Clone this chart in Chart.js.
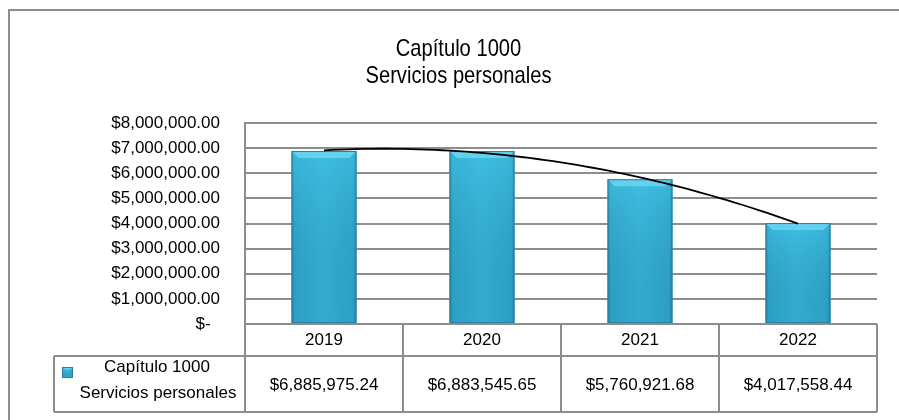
<!DOCTYPE html>
<html><head><meta charset="utf-8">
<script src="https://cdn.jsdelivr.net/npm/chart.js@4.4.1/dist/chart.umd.min.js"></script>
<style>html,body{margin:0;padding:0;background:#fff}#wrap{position:relative;width:899px;height:420px}canvas{display:block}</style>
</head><body><div id="wrap"><canvas id="c" width="899" height="420"></canvas></div>
<script>
// ---- data ----
const categories = ['2019', '2020', '2021', '2022'];
const seriesLabel = ['Capítulo 1000', 'Servicios personales'];
const values = [6885975.24, 6883545.65, 5760921.68, 4017558.44];
const yTickValues = [0, 1000000, 2000000, 3000000, 4000000, 5000000, 6000000, 7000000, 8000000];
const titleLines = ['Capítulo 1000', 'Servicios personales'];

// ---- styling ----
const FONT = "'Liberation Sans', Arial, sans-serif";
const GRID = '#8d8d8d';

function money(v) {
  if (v === 0) return '$-  ';
  return '$' + v.toLocaleString('en-US', {minimumFractionDigits: 2, maximumFractionDigits: 2});
}

// quadratic least-squares trendline (as Excel polynomial order 2) from the data
function quadFit(ys) {
  const n = ys.length;
  let s = [0,0,0,0,0], t = [0,0,0];
  for (let i = 0; i < n; i++) {
    for (let k = 0; k <= 4; k++) s[k] += Math.pow(i, k);
    for (let k = 0; k <= 2; k++) t[k] += ys[i] * Math.pow(i, k);
  }
  const A = [[s[0], s[1], s[2], t[0]], [s[1], s[2], s[3], t[1]], [s[2], s[3], s[4], t[2]]];
  for (let c = 0; c < 3; c++) {
    let p = c;
    for (let r = c + 1; r < 3; r++) if (Math.abs(A[r][c]) > Math.abs(A[p][c])) p = r;
    [A[c], A[p]] = [A[p], A[c]];
    for (let r = 0; r < 3; r++) {
      if (r === c) continue;
      const f = A[r][c] / A[c][c];
      for (let k = c; k < 4; k++) A[r][k] -= f * A[c][k];
    }
  }
  return [A[0][3] / A[0][0], A[1][3] / A[1][1], A[2][3] / A[2][2]];
}

function drawBevelBar(ctx, left, right, top, bottom) {
  const w = right - left;
  const g = ctx.createLinearGradient(left, 0, right, 0);
  g.addColorStop(0, '#2686a8');
  g.addColorStop(0.05, '#30aad0');
  g.addColorStop(0.5, '#37b7dc');
  g.addColorStop(0.95, '#30aad0');
  g.addColorStop(1, '#2686a8');
  ctx.fillStyle = g;
  ctx.fillRect(left, top, w, bottom - top);
  const v = ctx.createLinearGradient(0, top, 0, bottom);
  v.addColorStop(0, 'rgba(80,205,238,0.35)');
  v.addColorStop(1, 'rgba(10,70,100,0.10)');
  ctx.fillStyle = v;
  ctx.fillRect(left, top, w, bottom - top);
  const b = Math.min(7, (bottom - top) / 3, w / 4);
  ctx.beginPath();
  ctx.moveTo(left, top); ctx.lineTo(right, top);
  ctx.lineTo(right - b, top + b); ctx.lineTo(left + b, top + b); ctx.closePath();
  ctx.fillStyle = 'rgba(115,218,245,0.7)';
  ctx.fill();
  ctx.strokeStyle = '#2a809e';
  ctx.lineWidth = 1;
  ctx.strokeRect(left + 0.5, top + 0.5, w - 1, bottom - top - 1);
}

const titlePlugin = {
  id: 'narrowTitle',
  afterDraw(chart) {
    const ctx = chart.ctx;
    const cx = (chart.chartArea.right + 40) / 2;
    ctx.save();
    ctx.fillStyle = '#000';
    ctx.font = '24px ' + FONT;
    ctx.textAlign = 'center';
    ctx.textBaseline = 'alphabetic';
    ctx.translate(cx, 0);
    ctx.scale(0.84, 1);
    ctx.fillText(titleLines[0], 0, 56);
    ctx.fillText(titleLines[1], 0, 83);
    ctx.restore();
  }
};

const barStyle = {
  id: 'barStyle',
  afterDatasetsDraw(chart) {
    const ctx = chart.ctx;
    const meta = chart.getDatasetMeta(0);
    ctx.save();
    meta.data.forEach(el => {
      const p = el.getProps(['x', 'y', 'base', 'width'], true);
      drawBevelBar(ctx, p.x - p.width / 2, p.x + p.width / 2, p.y, p.base);
    });
    // trendline
    const c = quadFit(values);
    const xs = chart.scales.x, ys = chart.scales.y;
    ctx.beginPath();
    const N = 60;
    for (let k = 0; k <= N; k++) {
      const t = (values.length - 1) * k / N;
      const yv = c[0] + c[1] * t + c[2] * t * t;
      const px = xs.getPixelForValue(t), py = ys.getPixelForValue(yv);
      if (k === 0) ctx.moveTo(px, py); else ctx.lineTo(px, py);
    }
    ctx.strokeStyle = '#000';
    ctx.lineWidth = 1.8;
    ctx.stroke();
    ctx.restore();
  }
};

const tablePlugin = {
  id: 'dataTable',
  afterDraw(chart) {
    const ctx = chart.ctx;
    const ca = chart.chartArea;
    const xs = chart.scales.x;
    const top = ca.bottom, mid = top + 32, bot = top + 88;
    const legendLeft = 54;
    ctx.save();
    ctx.strokeStyle = GRID;
    ctx.lineWidth = 2;
    ctx.beginPath();
    ctx.moveTo(9, 420); ctx.lineTo(9, 10); ctx.lineTo(899, 10);
    ctx.moveTo(legendLeft, mid); ctx.lineTo(ca.right, mid);
    ctx.moveTo(legendLeft, bot); ctx.lineTo(ca.right, bot);
    ctx.moveTo(legendLeft, mid); ctx.lineTo(legendLeft, bot);
    for (let i = 0; i <= categories.length; i++) {
      const x = Math.round(xs.getPixelForValue(i - 0.5));
      ctx.moveTo(x, top); ctx.lineTo(x, bot);
    }
    ctx.stroke();
    ctx.fillStyle = '#000';
    ctx.font = '17px ' + FONT;
    ctx.textAlign = 'center';
    ctx.textBaseline = 'middle';
    values.forEach((v, i) => {
      ctx.fillText(money(v), xs.getPixelForValue(i), (mid + bot) / 2 + 1);
    });
    drawBevelBar(ctx, 62, 73, 367, 378);
    ctx.fillStyle = '#000';
    ctx.fillText(seriesLabel[0], 157, mid + 11);
    ctx.fillText(seriesLabel[1], 158, mid + 37);
    ctx.restore();
  }
};

new Chart(document.getElementById('c'), {
  type: 'bar',
  data: {
    labels: categories,
    datasets: [{
      label: seriesLabel.join(' '),
      data: values,
      backgroundColor: '#33b2d7',
      borderWidth: 0,
      categoryPercentage: 1,
      barPercentage: 0.41
    }]
  },
  options: {
    responsive: false,
    animation: false,
    devicePixelRatio: 1,
    layout: {padding: {left: 40, right: 22, top: 123, bottom: 0}},
    plugins: {
      legend: {display: false},
      tooltip: {enabled: false},
      title: {display: false}
    },
    scales: {
      x: {
        grid: {display: false, drawTicks: false},
        border: {display: false},
        ticks: {color: '#000', font: {family: FONT, size: 17}, padding: 6, maxRotation: 0},
        afterFit(s) { s.height = 96; }
      },
      y: {
        min: 0, max: 8000000,
        afterBuildTicks(s) { s.ticks = yTickValues.map(v => ({value: v})); },
        grid: {color: GRID, lineWidth: 2, drawTicks: false},
        border: {display: true, color: GRID, width: 2},
        ticks: {color: '#000', font: {family: FONT, size: 17}, padding: 25, callback: v => money(v)},
        afterFit(s) { s.width = 205; }
      }
    }
  },
  plugins: [barStyle, tablePlugin, titlePlugin]
});
</script></body></html>
